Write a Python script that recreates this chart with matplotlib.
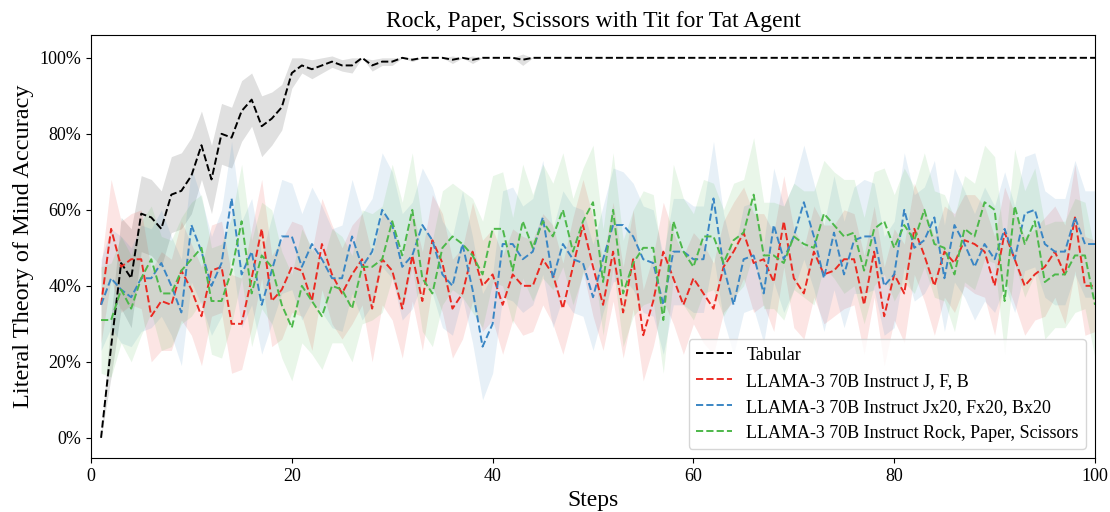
import matplotlib.pyplot as plt
from matplotlib.ticker import PercentFormatter

plt.rcParams['font.family'] = ['Liberation Serif', 'DejaVu Serif']

steps = list(range(1, 101))

# mean accuracy (%)
tabular = [0, 24, 46, 42, 59, 58, 55, 64, 65, 69,
           77, 68, 80, 79, 86, 89, 82, 84, 87, 96,
           98, 97, 98, 99, 98, 98, 100, 98, 99, 99,
           100, 99.5, 100, 100, 100, 99.5, 100, 99.5, 100, 100,
           100, 100, 99.5, 100, 100, 100, 100, 100, 100, 100,
           100, 100, 100, 100, 100, 100, 100, 100, 100, 100,
           100, 100, 100, 100, 100, 100, 100, 100, 100, 100,
           100, 100, 100, 100, 100, 100, 100, 100, 100, 100,
           100, 100, 100, 100, 100, 100, 100, 100, 100, 100,
           100, 100, 100, 100, 100, 100, 100, 100, 100, 100]
tabular_err = [0, 8, 12, 13, 10, 10, 10, 10, 10, 10,
               9, 9, 8, 8, 8, 7, 8, 7, 6, 4,
               2, 2.5, 2, 1.5, 1.5, 2, 0, 1.5, 1, 1,
               0, 0.5, 0, 0, 0, 1, 0, 1, 0, 0,
               0, 0, 1.5, 0, 0, 0, 0, 0, 0, 0,
               0, 0, 0, 0, 0, 0, 0, 0, 0, 0,
               0, 0, 0, 0, 0, 0, 0, 0, 0, 0,
               0, 0, 0, 0, 0, 0, 0, 0, 0, 0,
               0, 0, 0, 0, 0, 0, 0, 0, 0, 0,
               0, 0, 0, 0, 0, 0, 0, 0, 0, 0]

llama_jfb = [35, 55, 45, 47, 47, 32, 36, 35, 44, 39,
             32, 44, 45, 30, 30, 42, 55, 36, 39, 45,
             44, 36, 51, 43, 38, 43, 47, 34, 47, 44,
             34, 48, 36, 52, 46, 34, 38, 49, 40, 43,
             35, 43, 40, 40, 47, 43, 34, 45, 56, 45,
             35, 49, 33, 47, 27, 36, 49, 42, 35, 42,
             38, 34, 45, 49, 54, 46, 47, 41, 57, 42,
             38, 49, 43, 44, 47, 47, 35, 49, 32, 43,
             38, 55, 48, 40, 49, 46, 52, 51, 49, 40,
             54, 47, 40, 43, 45, 49, 43, 58, 40, 40]
llama_jfb_err = [10, 13, 12, 12, 13, 12, 13, 12, 13, 12,
                 13, 12, 12, 13, 12, 13, 13, 12, 13, 12,
                 12, 13, 12, 13, 12, 13, 12, 14, 12, 13,
                 13, 12, 13, 12, 13, 13, 12, 13, 12, 12,
                 13, 12, 13, 12, 12, 13, 12, 13, 12, 13,
                 12, 13, 12, 13, 12, 12, 13, 12, 13, 12,
                 13, 12, 12, 13, 12, 13, 12, 13, 12, 13,
                 12, 12, 13, 12, 13, 12, 13, 12, 13, 12,
                 13, 12, 12, 13, 12, 13, 12, 13, 12, 13,
                 12, 12, 13, 12, 13, 12, 13, 14, 13, 12]

llama_x20 = [35, 42, 39, 37, 42, 42, 46, 40, 33, 56,
             49, 40, 46, 63, 43, 49, 35, 44, 53, 53,
             45, 51, 47, 42, 42, 53, 45, 49, 60, 56,
             45, 48, 56, 52, 43, 40, 51, 39, 24, 30,
             51, 51, 47, 49, 58, 42, 51, 47, 46, 37,
             47, 56, 56, 53, 47, 46, 35, 49, 49, 47,
             47, 63, 45, 35, 47, 48, 38, 56, 47, 53,
             62, 53, 42, 54, 43, 52, 53, 53, 40, 43,
             60, 50, 52, 58, 42, 56, 51, 45, 51, 47,
             55, 47, 59, 60, 51, 49, 49, 58, 51, 51]
llama_x20_err = [12, 13, 14, 13, 14, 13, 14, 13, 14, 15,
                 14, 13, 14, 15, 14, 14, 13, 14, 15, 14,
                 14, 15, 14, 13, 14, 15, 14, 14, 15, 14,
                 14, 14, 15, 14, 14, 13, 14, 14, 14, 13,
                 14, 15, 14, 14, 15, 13, 14, 14, 14, 14,
                 14, 15, 14, 14, 14, 14, 13, 14, 14, 14,
                 14, 15, 14, 13, 14, 14, 13, 15, 14, 14,
                 15, 14, 14, 15, 14, 14, 15, 14, 13, 14,
                 15, 14, 14, 15, 14, 15, 14, 14, 15, 14,
                 15, 14, 15, 15, 14, 14, 14, 15, 14, 14]

llama_rps = [31, 31, 39, 34, 42, 47, 38, 38, 44, 47,
             50, 36, 36, 44, 57, 38, 48, 45, 35, 29,
             40, 36, 32, 40, 39, 34, 45, 45, 47, 57,
             48, 60, 42, 38, 50, 53, 51, 48, 43, 55,
             55, 44, 57, 50, 57, 53, 60, 49, 57, 62,
             41, 60, 38, 46, 50, 50, 31, 57, 49, 45,
             53, 53, 46, 52, 54, 64, 48, 48, 46, 53,
             51, 50, 59, 56, 53, 54, 44, 55, 57, 50,
             56, 52, 60, 51, 50, 43, 55, 53, 62, 60,
             36, 61, 51, 57, 41, 43, 43, 48, 48, 35]
llama_rps_err = [14, 15, 14, 14, 15, 14, 15, 14, 14, 15,
                 14, 14, 15, 14, 15, 14, 14, 15, 14, 14,
                 15, 14, 14, 15, 14, 14, 15, 14, 14, 15,
                 14, 15, 14, 14, 15, 14, 14, 15, 14, 14,
                 15, 14, 15, 14, 15, 14, 15, 14, 14, 15,
                 14, 15, 14, 14, 15, 14, 14, 15, 14, 14,
                 15, 14, 14, 15, 14, 15, 14, 14, 15, 14,
                 14, 15, 14, 14, 15, 14, 14, 15, 14, 14,
                 15, 14, 15, 14, 14, 15, 14, 14, 15, 14,
                 14, 15, 14, 14, 15, 14, 14, 15, 14, 14]

series = [
    ('Tabular', tabular, tabular_err, 'black'),
    ('LLAMA-3 70B Instruct J, F, B', llama_jfb, llama_jfb_err, '#ea2a22'),
    ('LLAMA-3 70B Instruct Jx20, Fx20, Bx20', llama_x20, llama_x20_err, '#3a86c4'),
    ('LLAMA-3 70B Instruct Rock, Paper, Scissors', llama_rps, llama_rps_err, '#4db84a'),
]

fig, ax = plt.subplots(figsize=(11.1, 5.12), dpi=100)
fig.subplots_adjust(left=0.082, right=0.9865, top=0.9316, bottom=0.1055)

for label, mean, err, color in series:
    lo = [m - e for m, e in zip(mean, err)]
    hi = [m + e for m, e in zip(mean, err)]
    ax.plot(steps, mean, '--', color=color, linewidth=1.4, label=label)
    ax.fill_between(steps, lo, hi, color=color, alpha=0.12, linewidth=0)

ax.set_xlim(0, 100)
ax.set_ylim(-5.3, 106)
ax.set_yticks([0, 20, 40, 60, 80, 100])
ax.yaxis.set_major_formatter(PercentFormatter(100, decimals=0))
ax.tick_params(labelsize=13)

ax.set_title('Rock, Paper, Scissors with Tit for Tat Agent', fontsize=17)
ax.set_xlabel('Steps', fontsize=17)
ax.set_ylabel('Literal Theory of Mind Accuracy', fontsize=17.5)
ax.legend(loc='lower right', fontsize=13)

plt.savefig('out.png')
